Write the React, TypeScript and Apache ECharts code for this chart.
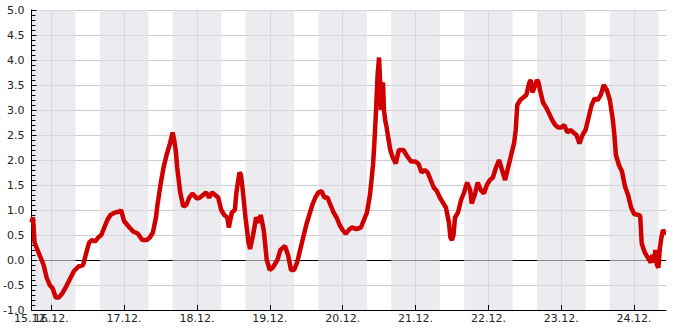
import React, { useEffect, useRef } from "react";
import * as echarts from "echarts";

// time in hours since 15.12. 00:00
const hours = [
  17.5, 18, 18.5, 19.5, 20.5, 21.5, 22.5, 23.5, 24.5, 25.5, 26.5, 27.5, 28.5, 30, 31.5, 33, 34.5, 35.5, 36.5, 37.5,
  38.5, 39.5, 40.5, 41.5, 42.5, 43.5, 45, 46.5, 47, 48, 49.5, 51, 52.5, 54, 55.5, 56.5, 57.5, 58.5, 59, 60,
  61, 62, 63, 64, 64.5, 65, 65.5, 66.5, 67.5, 68.5, 69.5, 70.5, 72, 73, 74, 75, 76, 77, 78, 79,
  80, 81, 82, 82.5, 83.5, 84.5, 85, 86, 86.5, 87, 88, 89, 89.5, 90.5, 91.5, 92.5, 93, 94, 95, 96,
  97, 98.5, 99.5, 101, 102, 103, 104, 105, 106, 107, 108, 109, 110, 111, 112, 113, 114, 115, 116, 117,
  118, 119, 120, 121, 122, 123, 124.5, 126, 127, 128, 129, 129.5, 130, 130.5, 131, 131.5, 132, 132.3, 132.6, 133,
  133.3, 133.6, 134, 134.5, 135, 135.7, 136.5, 137.5, 138.5, 140, 141, 142.5, 144, 145, 146, 147, 148, 149, 150, 151,
  152, 153, 154, 155, 155.5, 156, 156.5, 157, 158, 159, 160, 161, 162, 162.5, 163.5, 164.5, 165.5, 166.5, 167.5, 168.5,
  169.5, 170.5, 171.5, 172.5, 173.5, 174.5, 175.5, 176.5, 177, 177.5, 178.5, 179.5, 180.5, 181.5, 182, 182.5, 183.5, 184, 184.5, 185,
  186, 187, 188, 189, 190, 191, 192, 193, 194, 195, 196, 197, 198, 199, 200, 201, 202, 203, 204, 205,
  206, 207, 208, 209, 209.5, 210, 211, 212, 213, 214, 215, 216, 217.5, 218, 218.5, 219.5, 220.5, 221.5, 222, 222.5,
  223, 223.5, 224, 224.5, 225, 225.5, 226, 226.5,
];

const values = [
  0.75, 0.85, 0.35, 0.2, 0.05, -0.1, -0.35, -0.5, -0.57, -0.75, -0.75, -0.68, -0.58, -0.4, -0.22, -0.13, -0.1, 0.13, 0.35, 0.4,
  0.37, 0.45, 0.5, 0.65, 0.8, 0.9, 0.95, 0.97, 1.0, 0.78, 0.67, 0.57, 0.53, 0.4, 0.4, 0.45, 0.55, 0.85, 1.1, 1.5,
  1.85, 2.1, 2.3, 2.55, 2.4, 2.2, 1.85, 1.35, 1.07, 1.1, 1.25, 1.33, 1.23, 1.25, 1.3, 1.35, 1.25, 1.35, 1.3, 1.25,
  1.0, 0.9, 0.85, 0.65, 0.95, 1.0, 1.35, 1.75, 1.7, 1.45, 0.85, 0.35, 0.22, 0.5, 0.85, 0.75, 0.9, 0.6, 0.0, -0.2,
  -0.15, 0.0, 0.2, 0.28, 0.1, -0.2, -0.2, -0.05, 0.2, 0.45, 0.7, 0.9, 1.1, 1.25, 1.35, 1.38, 1.25, 1.25, 1.1, 0.95,
  0.85, 0.7, 0.6, 0.52, 0.6, 0.65, 0.62, 0.65, 0.8, 0.95, 1.3, 1.6, 1.9, 2.4, 3.0, 3.7, 4.05, 3.6, 3.0, 3.5,
  3.55, 3.0, 2.8, 2.65, 2.45, 2.2, 2.05, 1.93, 2.2, 2.2, 2.1, 1.97, 1.97, 1.92, 1.75, 1.8, 1.75, 1.6, 1.45, 1.38,
  1.25, 1.15, 1.05, 0.75, 0.45, 0.4, 0.5, 0.85, 0.95, 1.2, 1.35, 1.55, 1.4, 1.13, 1.3, 1.55, 1.4, 1.33, 1.5, 1.6,
  1.65, 1.85, 2.0, 1.8, 1.6, 1.85, 2.1, 2.35, 2.6, 3.1, 3.2, 3.25, 3.3, 3.55, 3.6, 3.35, 3.5, 3.6, 3.55, 3.4,
  3.15, 3.05, 2.93, 2.8, 2.7, 2.65, 2.65, 2.7, 2.55, 2.6, 2.55, 2.5, 2.33, 2.5, 2.6, 2.85, 3.1, 3.23, 3.2, 3.3,
  3.5, 3.4, 3.2, 2.8, 2.5, 2.1, 1.9, 1.77, 1.47, 1.3, 1.05, 0.92, 0.9, 0.88, 0.33, 0.15, 0.05, -0.05, 0.1, -0.05,
  0.2, -0.1, -0.15, 0.25, 0.45, 0.6, 0.55, 0.55,
];

const xMin = 17.5;
const xMax = 226.5;
const dayTicks = [24, 48, 72, 96, 120, 144, 168, 192, 216];
const startLabel = [xMin];
// night periods (16:00 - 08:00), hours since 15.12. 00:00
const nightStart = [17.5, 40, 64, 88, 112, 136, 160, 184, 208];
const nightEnd = [32, 56, 80, 104, 128, 152, 176, 200, 224];
const yMin = -1;
const yMax = 5;
const yStep = 0.5;

const FONT = "DejaVu Sans";

function dayLabel(h: number): string {
  const d = 15 + Math.floor(h / 24 + 1e-9);
  return d + ".12.";
}

export default function App() {
  const ref = useRef<HTMLDivElement>(null);
  useEffect(() => {
    if (!ref.current) return;
    const chart = echarts.init(ref.current, undefined, { renderer: "svg" });
    const xBase = { type: "value", min: xMin, max: xMax, position: "bottom", gridIndex: 0 };
    const yBase = { type: "value", min: yMin, max: yMax, interval: yStep, position: "left", gridIndex: 0 };
    const labelStyle = {
      formatter: (v: number) => dayLabel(v),
      color: "#222",
      fontSize: 11,
      fontFamily: FONT,
      margin: 3,
      hideOverlap: false,
      showMinLabel: true,
    };
    chart.setOption({
      animation: false,
      textStyle: { fontFamily: FONT },
      grid: { left: 31, right: 19, top: 10, bottom: 20 },
      xAxis: [
        {
          ...xBase,
          z: 0,
          axisLine: { show: false, onZero: false },
          axisTick: { show: false, customValues: dayTicks },
          axisLabel: { show: false },
          splitLine: { show: true, lineStyle: { color: "#cccccc", width: 1 } },
        },
        {
          ...xBase,
          z: 3,
          axisLine: { show: true, onZero: false, lineStyle: { color: "#000", width: 1 } },
          axisTick: { show: true, inside: true, length: 5, customValues: dayTicks, lineStyle: { color: "#000" } },
          axisLabel: { ...labelStyle, customValues: dayTicks },
          splitLine: { show: false },
        },
        {
          ...xBase,
          z: 3,
          axisLine: { show: false, onZero: false },
          axisTick: { show: false, customValues: startLabel },
          axisLabel: { ...labelStyle, customValues: startLabel },
          splitLine: { show: false },
        },
      ],
      yAxis: [
        {
          ...yBase,
          z: 0,
          axisLine: { show: false, onZero: false },
          axisTick: { show: false },
          axisLabel: { show: false },
          splitLine: { show: true, lineStyle: { color: "#cccccc", width: 1 } },
        },
        {
          ...yBase,
          z: 3,
          axisLine: { show: true, onZero: false, lineStyle: { color: "#000", width: 1 } },
          axisTick: { show: true, inside: true, length: 5, lineStyle: { color: "#000" } },
          minorTick: { show: true, splitNumber: 5, length: 4, lineStyle: { color: "#000" } },
          minorSplitLine: { show: false },
          axisLabel: {
            formatter: (v: number) => v.toFixed(1),
            color: "#222",
            fontSize: 11,
            fontFamily: FONT,
            margin: 7,
          },
          splitLine: { show: false },
        },
      ],
      series: [
        {
          type: "line",
          xAxisIndex: 0,
          yAxisIndex: 0,
          z: 4,
          symbol: "none",
          showSymbol: false,
          data: hours.map((h, i) => [h, values[i]]),
          lineStyle: { color: "#d00000", width: 4.5 },
          markLine: {
            z: 1,
            silent: true,
            symbol: ["none", "none"],
            label: { show: false },
            lineStyle: { color: "#000", width: 1, type: "solid" },
            data: [{ yAxis: 0 }],
          },
          markArea: {
            z: 2,
            silent: true,
            itemStyle: { color: "rgba(221,221,230,0.6)" },
            data: nightStart.map((s, i) => [{ xAxis: s }, { xAxis: nightEnd[i] }]),
          },
        },
      ],
    });
    return () => chart.dispose();
  }, []);
  return (
    <div
      ref={ref}
      style={{ position: "fixed", left: 0, top: 0, width: 685, height: 330, background: "#fff" }}
    />
  );
}
